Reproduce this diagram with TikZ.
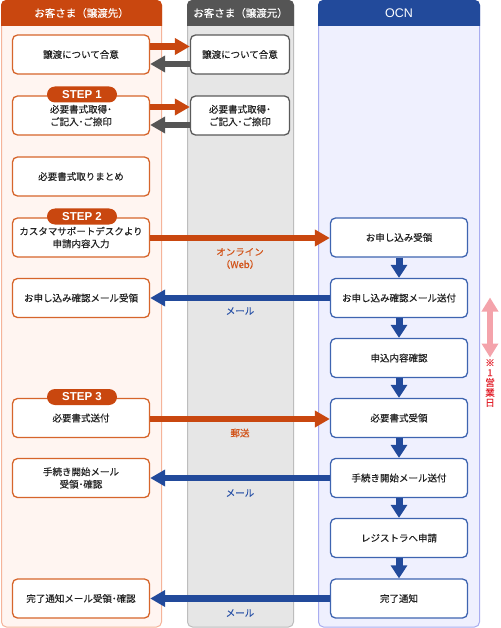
\documentclass[tikz,border=0pt]{standalone}
\usepackage{fontspec}
\setmainfont{Noto Sans CJK JP}[RawFeature={embolden=0.3}]
\newfontfamily\headfont{Noto Sans CJK JP}[RawFeature={embolden=0.3}]
\newfontfamily\latinfont{Liberation Sans}
\usetikzlibrary{arrows.meta,calc}
\definecolor{lhead}{HTML}{C9470F}
\definecolor{lbody}{HTML}{FFF5F1}
\definecolor{lborder}{HTML}{F5B49A}
\definecolor{lboxc}{HTML}{D6652B}
\definecolor{mhead}{HTML}{555555}
\definecolor{mbody}{HTML}{E6E6E6}
\definecolor{mborder}{HTML}{BDBDBD}
\definecolor{mboxc}{HTML}{5A5A5A}
\definecolor{rhead}{HTML}{224A9B}
\definecolor{rbody}{HTML}{EFF0FE}
\definecolor{rborder}{HTML}{A9ADF0}
\definecolor{rboxc}{HTML}{3E64B0}
\definecolor{arrO}{HTML}{C9470F}
\definecolor{arrG}{HTML}{555555}
\definecolor{arrB}{HTML}{224A9B}
\definecolor{pinkc}{HTML}{F4A3AB}
\definecolor{redc}{HTML}{E3202B}
\definecolor{labO}{HTML}{D2541A}
\definecolor{labB}{HTML}{2D55A8}
\definecolor{textc}{HTML}{222222}
\tikzset{
  boxbase/.style={fill=white, line width=1.3pt, rounded corners=5pt, minimum height=39pt, align=center, text=textc, inner sep=1pt},
  lbox/.style={boxbase, draw=lboxc, minimum width=137pt},
  mbox/.style={boxbase, draw=mboxc, minimum width=99pt},
  rbox/.style={boxbase, draw=rboxc, minimum width=137pt},
  headtext/.style={text=white, font=\headfont\fontsize{10.5}{12}\selectfont},
  stepbadge/.style={fill=lhead, rounded corners=8pt, minimum width=70pt, minimum height=16pt, inner sep=0pt, text=white, font=\latinfont\bfseries\fontsize{11.5}{12}\selectfont},
  harrO/.style={draw=arrO, line width=6.5pt, -{Triangle[width=16pt,length=15pt]}},
  harrG/.style={draw=arrG, line width=6.5pt, -{Triangle[width=16pt,length=15pt]}},
  harrB/.style={draw=arrB, line width=6.5pt, -{Triangle[width=16pt,length=15pt]}},
  varrB/.style={draw=arrB, line width=7pt, -{Triangle[width=16pt,length=13pt]}},
  labelO/.style={text=labO, align=center, font=\fontsize{9.5}{12.5}\selectfont},
  labelB/.style={text=labB, align=center, font=\fontsize{9.5}{12.5}\selectfont},
}
\begin{document}
\begin{tikzpicture}[x=1pt,y=-1pt,font=\fontsize{9.5}{12.5}\selectfont]
\useasboundingbox (0,0) rectangle (500,628);
\fill[white] (0,0) rectangle (500,628);
% columns
\draw[draw=lborder, fill=lbody, rounded corners=5pt, line width=1pt] (1.5,0.5) rectangle (161.5,627);
\begin{scope}\clip (0,0) rectangle (170,26);
\fill[lhead, rounded corners=5pt] (1,0) rectangle (162,60);
\end{scope}
\draw[draw=mborder, fill=mbody, rounded corners=5pt, line width=1pt] (187.5,0.5) rectangle (293.5,627);
\begin{scope}\clip (180,0) rectangle (300,26);
\fill[mhead, rounded corners=5pt] (187,0) rectangle (294,60);
\end{scope}
\draw[draw=rborder, fill=rbody, rounded corners=5pt, line width=1pt] (318.5,0.5) rectangle (479.5,627);
\begin{scope}\clip (310,0) rectangle (490,26);
\fill[rhead, rounded corners=5pt] (318,0) rectangle (480,60);
\end{scope}
\node[headtext] (hL) at (81.5,13) {お客さま（譲渡先）};
\node[headtext] (hM) at (240.5,13) {お客さま（譲渡元）};
\node[headtext, font=\latinfont\fontsize{12.5}{14}\selectfont] (hR) at (399,13) {OCN};
% left boxes
\node[lbox] (L1) at (81,54.5) {譲渡について合意};
\node[lbox] (L2) at (81,115.5) {必要書式取得･\\ご記入･ご捺印};
\node[lbox] (L3) at (81,176.5) {必要書式取りまとめ};
\node[lbox] (L4) at (81,237.5) {カスタマサポートデスクより\\申請内容入力};
\node[lbox] (L5) at (81,298) {お申し込み確認メール受領};
\node[lbox] (L7) at (81,418) {必要書式送付};
\node[lbox] (L8) at (81,478) {手続き開始メール\\受領･確認};
\node[lbox] (L10) at (81,598.5) {完了通知メール受領･確認};
% middle boxes
\node[mbox] (M1) at (240,54.5) {譲渡について合意};
\node[mbox] (M2) at (240,115.5) {必要書式取得･\\ご記入･ご捺印};
% right boxes
\node[rbox] (O4) at (399,237.5) {お申し込み受領};
\node[rbox] (O5) at (399,298) {お申し込み確認メール送付};
\node[rbox] (O6) at (399,358) {申込内容確認};
\node[rbox] (O7) at (399,418) {必要書式受領};
\node[rbox] (O8) at (399,478) {手続き開始メール送付};
\node[rbox] (O9) at (399,538) {レジストラへ申請};
\node[rbox] (O10) at (399,598.5) {完了通知};
% step badges
\node[stepbadge] (S1) at (82,94.5) {STEP 1};
\node[stepbadge] (S2) at (82,216.5) {STEP 2};
\node[stepbadge] (S3) at (82,397) {STEP 3};
% horizontal arrows
\draw[harrO] ([yshift=8pt]L1.east) -- ([yshift=8pt]M1.west);
\draw[harrG] ([yshift=-9.5pt]M1.west) -- ([yshift=-9.5pt]L1.east);
\draw[harrO] ([yshift=8.5pt]L2.east) -- ([yshift=8.5pt]M2.west);
\draw[harrG] ([yshift=-9.5pt]M2.west) -- ([yshift=-9.5pt]L2.east);
\draw[harrO] ([yshift=-0.5pt]L4.east) -- ([yshift=-0.5pt]O4.west);
\draw[harrB] (O5.west) -- (L5.east);
\draw[harrO] ([yshift=-1pt]L7.east) -- ([yshift=-1pt]O7.west);
\draw[harrB] (O8.west) -- (L8.east);
\draw[harrB] (O10.west) -- (L10.east);
% vertical arrows
\draw[varrB] (O4.south) -- (O5.north);
\draw[varrB] (O5.south) -- (O6.north);
\draw[varrB] (O6.south) -- (O7.north);
\draw[varrB] (O7.south) -- (O8.north);
\draw[varrB] (O8.south) -- (O9.north);
\draw[varrB] (O9.south) -- (O10.north);
% labels
\node[labelO] (t1) at (240,258.5) {オンライン\\（Web）};
\node[labelB] (t2) at (240,311) {メール};
\node[labelO] (t3) at (240,433) {郵送};
\node[labelB] (t4) at (240,493) {メール};
\node[labelB] (t5) at (240,613) {メール};
% business day
\coordinate (p1) at (490,297.5);
\coordinate (p2) at (490,357.5);
\draw[draw=pinkc, line width=6pt, {Triangle[width=16pt,length=14pt]}-{Triangle[width=16pt,length=14pt]}] (p1) -- (p2);
\node[text=redc, align=center, inner sep=0pt, font=\fontsize{9.5}{10}\selectfont] (bd) at (490,383) {※\\1\\営\\業\\日};
\end{tikzpicture}
\end{document}
